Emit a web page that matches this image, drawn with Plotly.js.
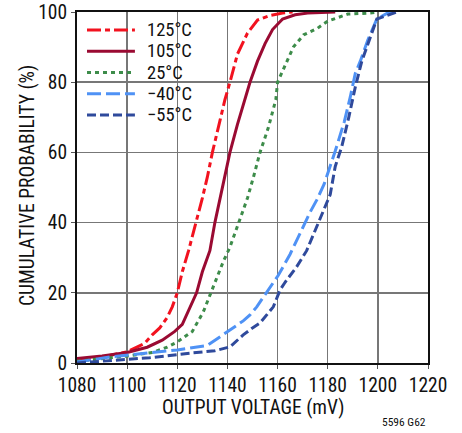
<!DOCTYPE html>
<html>
<head>
<meta charset="utf-8">
<script src="https://cdn.plot.ly/plotly-3.0.1.min.js"></script>
<style>html,body{margin:0;padding:0;background:#fff;}#chart{width:462px;height:433px;}</style>
</head>
<body>
<div id="chart"></div>
<script>
// Series data (output voltage in mV, cumulative probability in %)
const seriesNames = ["125°C", "105°C", "25°C", "\u221240°C", "\u221255°C"];

const x125 = [1080,1090,1100,1104,1107,1110,1113,1116,1118,1120,1122,1124.5,1127.5,1130,1132,1134,1137,1139,1141,1144,1148,1152,1157,1162,1166];
const y125 = [1,1.7,3.2,4.6,5.6,8,10,13,16,20,26,32,40,47,53,60,69,75,80,88,94,97.7,99,99.7,100];

const x105 = [1080,1090,1100,1108,1114,1119,1122,1124,1126,1127.7,1130,1133,1135,1137,1139,1141,1144,1147,1149,1152,1155,1158,1162,1167,1172,1183];
const y105 = [1.3,2,3,4.5,6.5,9,11,14,17,20,26,32,40,47,54,60,68,75,80,86,91,95,98,99.2,99.7,100];

const x25 = [1080,1090,1100,1110,1116,1120,1126,1130.4,1134.4,1138.4,1141,1145,1148,1150.4,1153,1156.3,1159.3,1160,1162.5,1166.3,1170.4,1176,1180,1188,1197,1200];
const y25 = [0.5,1.2,2,3,4.5,6,9,14.6,21.7,29,33,41,47,53,60,67,75,80,84,90,93.5,95.4,97.4,99.4,99.7,100];

const xm40 = [1080,1094,1110,1120,1132,1138.4,1141,1146.3,1149,1151.7,1155.7,1160.3,1165,1169.6,1173,1175.6,1178.6,1183,1186.6,1189,1191,1193,1196,1199.6,1203.6,1207.6];
const ym40 = [0.3,1.8,3,3.7,5,8,9.4,12,13.7,16,20.3,25,31,38,43,46.4,51,60.4,68.7,75.8,82.5,86,92,98,99.6,100];

const xm55 = [1080,1095,1109,1125,1135,1141,1146.3,1150,1153,1158.3,1161,1163,1167.6,1171.6,1175.6,1179,1181,1183,1185.6,1188.4,1191,1193.6,1197,1199.6,1203.6,1207.6];
const ym55 = [0,0.8,1.5,2.8,3.5,4.6,8,10,11.4,16,20.8,23,27.4,32,38.8,44.5,48,56,61.6,70,78.6,86,93,98,99,100];

const xTicks = [1080,1100,1120,1140,1160,1180,1200,1220];
const yTicks = [0,20,40,60,80,100];

const xTitle = "OUTPUT VOLTAGE (mV)";
const yTitle = "CUMULATIVE PROBABILITY (%)";
const figNote = "5596 G62";

const colors = ["#f2121f", "#9a0a32", "#3d8c4a", "#4f92f5", "#2f4a9c"];
const dashes = ["14px,4px,5px,4px", "solid", "4px,4px", "14px,5px", "9px,4px"];

const xs = [x125, x105, x25, xm40, xm55];
const ys = [y125, y105, y25, ym40, ym55];

const FONT = "'Liberation Sans Narrow', 'Roboto Condensed', 'Arial Narrow', 'DejaVu Sans Condensed', sans-serif";
const FS = 19.5;
const LFS = 18.5;

const traces = xs.map((xv, i) => ({
  x: xv, y: ys[i], type: "scatter", mode: "lines", name: seriesNames[i],
  line: {color: colors[i], width: 3, dash: dashes[i]}, showlegend: false
}));

// manual legend (paper coordinates of plot area)
const shapes = [{
  type: "rect", xref: "paper", yref: "paper", x0: 0.014, x1: 0.33, y0: 0.672, y1: 0.996,
  fillcolor: "#fff", line: {width: 0}, layer: "between"
}];
const annotations = [];
const legY = [30, 51.25, 72.5, 93.75, 115];
seriesNames.forEach((n, i) => {
  const yp = (363 - legY[i]) / 351;
  shapes.push({type: "line", xref: "paper", yref: "paper", x0: 0.0285, x1: 0.165, y0: yp, y1: yp,
    line: {color: colors[i], width: 3, dash: dashes[i]}, layer: "above"});
  annotations.push({xref: "paper", yref: "paper", x: 0.197, y: yp, xanchor: "left", yanchor: "middle",
    text: n, showarrow: false, borderpad: 0, font: {family: FONT, size: LFS, color: "#111"}});
});
annotations.push({xref: "paper", yref: "paper", x: 1.0, y: -0.168, xanchor: "right", yanchor: "middle",
  text: figNote, showarrow: false, font: {family: FONT, size: 11.5, color: "#111"}});
// axis titles
annotations.push({xref: "paper", yref: "paper", x: 0.5, y: -0.1254, xanchor: "center", yanchor: "middle",
  text: xTitle, showarrow: false, font: {family: FONT, size: FS, color: "#111"}});
annotations.push({xref: "paper", yref: "paper", x: -0.1425, y: 0.507, xanchor: "center", yanchor: "middle",
  textangle: -90, text: yTitle, showarrow: false, font: {family: FONT, size: FS, color: "#111"}});

const layout = {
  width: 462, height: 433,
  margin: {l: 77, r: 34, t: 12, b: 70},
  paper_bgcolor: "#fff", plot_bgcolor: "#fff",
  font: {family: FONT, size: FS, color: "#111"},
  showlegend: false,
  xaxis: {
    range: [1080, 1220], tickvals: xTicks, ticktext: xTicks.map(String),
    showgrid: true, gridcolor: "#777", gridwidth: 1.5,
    showline: true, linecolor: "#111", linewidth: 2, mirror: true,
    ticks: "outside", ticklen: 4, tickcolor: "#555", zeroline: false,
    tickfont: {family: FONT, size: FS, color: "#111"}
  },
  yaxis: {
    range: [0, 100], tickvals: yTicks, ticktext: yTicks.map(String),
    showgrid: true, gridcolor: "#777", gridwidth: 1.5,
    showline: true, linecolor: "#111", linewidth: 2, mirror: true,
    ticks: "outside", ticklen: 4, tickcolor: "#555", zeroline: false,
    tickfont: {family: FONT, size: FS, color: "#111"}
  },
  shapes: shapes,
  annotations: annotations
};

Plotly.newPlot("chart", traces, layout, {staticPlot: true, displayModeBar: false});
</script>
</body>
</html>
